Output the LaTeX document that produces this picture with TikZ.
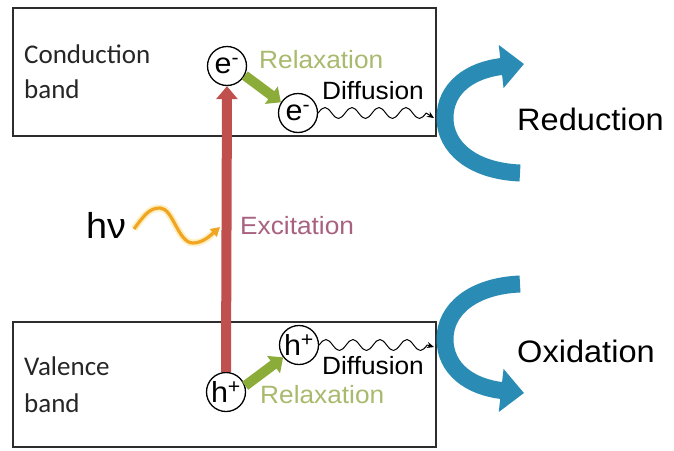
\documentclass[tikz,border=0pt]{standalone}
\usepackage{fontspec}
\setmainfont[FakeStretch=1.05]{Liberation Sans}
\newfontfamily\calfont{Carlito}
\usetikzlibrary{arrows.meta}
\newcommand\fsz[1]{\fontsize{#1}{#1}\selectfont}
\definecolor{boxline}{RGB}{45,45,45}
\definecolor{excred}{RGB}{192,80,77}
\definecolor{relaxgreen}{RGB}{140,172,58}
\definecolor{relaxtext}{RGB}{168,186,110}
\definecolor{exctext}{RGB}{168,98,128}
\definecolor{photonorange}{RGB}{240,165,35}
\definecolor{photonglow}{RGB}{255,228,150}
\definecolor{redoxblue}{RGB}{42,140,180}
\tikzset{
  bandbox/.style={draw=boxline, line width=1.6pt, inner sep=0pt},
  bandlabel/.style={font=\calfont\fsz{27}, anchor=base west, inner sep=0pt, text=black!85},
  particle/.style={circle, draw=black, line width=1.3pt, minimum size=39pt, inner sep=0pt, font=\fsz{29}},
  excite/.style={draw=excred, line width=10pt, -{Triangle[width=21pt,length=13pt]}},
  relax/.style={draw=relaxgreen, line width=10pt, -{Triangle[width=21pt,length=12pt]}},
  diffuse/.style={draw=black, line width=1pt, line join=round, -{Stealth[length=7pt,width=6pt]}},
  redox/.style={draw=redoxblue, line width=17pt, -{Triangle[width=42pt,length=23pt]}},
  photon/.style={draw=photonorange, line width=3.2pt, -{Triangle[width=10pt,length=9pt]}},
  lbl/.style={anchor=base west, inner sep=0pt},
}
\begin{document}
\begin{tikzpicture}[x=1pt,y=-1pt]
\useasboundingbox[fill=white] (0,0) rectangle (674,450);

% band boxes
\node[bandbox, minimum width=423pt, minimum height=128pt] (cbbox) at (224.5,72) {};
\node[bandbox, minimum width=423pt, minimum height=125pt] (vbbox) at (224.5,384.5) {};

% band labels
\node[bandlabel] (cbl1) at (24,63) {Conduction};
\node[bandlabel] (cbl2) at (24,98) {band};
\node[bandlabel] (vbl1) at (24,375) {Valence};
\node[bandlabel] (vbl2) at (24,412) {band};

% particles
\node[particle] (e1) at (227,66) {e\textsuperscript{-}};
\node[particle] (e2) at (298,113) {e\textsuperscript{-}};
\node[particle] (h2) at (299,345) {h\textsuperscript{+}};
\node[particle] (h1) at (226,392) {h\textsuperscript{+}};

% excitation
\draw[excite] (h1.north) -- (e1.south);
\node[lbl, text=exctext, font=\fsz{25}] (exc) at (240,234) {Excitation};

% photon
\node[lbl, font=\fsz{36}] (hv) at (86,238) {hν};
\coordinate (phS) at (134,229);
\coordinate (phE) at (220,227);
\draw[photonglow, line width=7pt, opacity=0.6] (phS) .. controls (145,214) and (150,208) .. (160,208) .. controls (173,208) and (178,243) .. (193,243) .. controls (203,243) and (211,236) .. (214,232);
\draw[photon] (phS) .. controls (145,214) and (150,208) .. (160,208) .. controls (173,208) and (178,243) .. (193,243) .. controls (203,243) and (211,235) .. (phE);

% relaxation
\draw[relax] (e1.-28) -- (e2.148);
\draw[relax] (h1.18) -- (h2.218);
\node[lbl, text=relaxtext, font=\fsz{25}] (rx1) at (259,68) {Relaxation};
\node[lbl, text=relaxtext, font=\fsz{25}] (rx2) at (260,403) {Relaxation};

% diffusion
\coordinate (dtop) at (434,118);
\coordinate (dbot) at (434,347);
\draw[diffuse] (e2.east)
  sin ++(6.75,-5.5) cos ++(6.75,5.5) sin ++(6.75,5.5) cos ++(6.75,-5.5)
  sin ++(6.75,-5.5) cos ++(6.75,5.5) sin ++(6.75,5.5) cos ++(6.75,-5.5)
  sin ++(6.75,-5.5) cos ++(6.75,5.5) sin ++(6.75,5.5) cos ++(6.75,-5.5)
  sin ++(6.75,-5.5) cos ++(6.75,5.5) sin ++(6.75,5.5) cos ++(6.75,-5.5)
  -- (dtop);
\draw[diffuse] (h2.east)
  sin ++(6.75,-5.5) cos ++(6.75,5.5) sin ++(6.75,5.5) cos ++(6.75,-5.5)
  sin ++(6.75,-5.5) cos ++(6.75,5.5) sin ++(6.75,5.5) cos ++(6.75,-5.5)
  sin ++(6.75,-5.5) cos ++(6.75,5.5) sin ++(6.75,5.5) cos ++(6.75,-5.5)
  sin ++(6.75,-5.5) cos ++(6.75,5.5) sin ++(6.75,5.5) cos ++(6.75,-5.5)
  -- (dbot);
\node[lbl, font=\fsz{25}] (df1) at (322,99) {Diffusion};
\node[lbl, font=\fsz{25}] (df2) at (322,374) {Diffusion};

% redox arrows
\draw[redox] (520,173) .. controls (472,171) and (445,147) .. (445,118) .. controls (445,88) and (470,70) .. (524,64);
\draw[redox] (520,284) .. controls (472,286) and (445,310) .. (445,339) .. controls (445,369) and (470,387) .. (524,393);
\node[lbl, font=\fsz{31}] (red) at (517,130) {Reduction};
\node[lbl, font=\fsz{31}] (ox) at (517,362) {Oxidation};
\end{tikzpicture}
\end{document}
